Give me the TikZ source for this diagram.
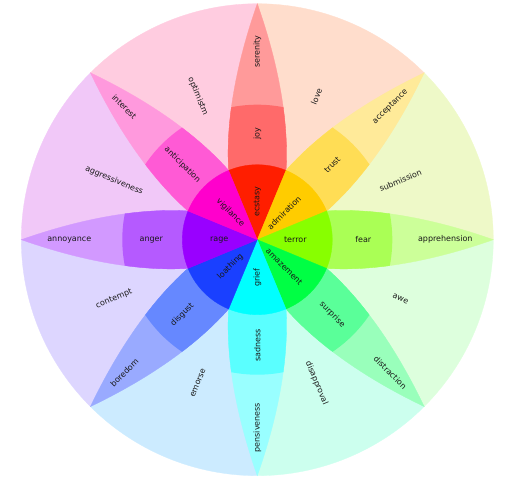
\documentclass[tikz,border=0pt]{standalone}
\usepackage{fontspec}
\setmainfont{DejaVu Sans}

% primary emotions, three levels each
\definecolor{ecstasy}{HTML}{FF1E00}
\definecolor{joy}{HTML}{FF6A6A}
\definecolor{serenity}{HTML}{FF9A9A}
\definecolor{admiration}{HTML}{FFCC00}
\definecolor{trust}{HTML}{FFDD55}
\definecolor{acceptance}{HTML}{FFEA99}
\definecolor{terror}{HTML}{88FF00}
\definecolor{fear}{HTML}{AAFF55}
\definecolor{apprehension}{HTML}{CCFF99}
\definecolor{amazement}{HTML}{00FF44}
\definecolor{surprise}{HTML}{5AFF99}
\definecolor{distraction}{HTML}{99FFBB}
\definecolor{grief}{HTML}{00FFFF}
\definecolor{sadness}{HTML}{5AFFFF}
\definecolor{pensiveness}{HTML}{99FFFF}
\definecolor{loathing}{HTML}{1A40FF}
\definecolor{disgust}{HTML}{6688FF}
\definecolor{boredom}{HTML}{99AAFF}
\definecolor{rage}{HTML}{9900FF}
\definecolor{anger}{HTML}{B55AFF}
\definecolor{annoyance}{HTML}{D299FF}
\definecolor{vigilance}{HTML}{FF00CC}
\definecolor{anticipation}{HTML}{FF5AD5}
\definecolor{interest}{HTML}{FF99DD}
% dyads
\definecolor{love}{HTML}{FFDDCC}
\definecolor{submission}{HTML}{EEF9C8}
\definecolor{awe}{HTML}{DDFFDD}
\definecolor{disapproval}{HTML}{CCFFEE}
\definecolor{remorse}{HTML}{CCEBFF}
\definecolor{contempt}{HTML}{DDD6FF}
\definecolor{aggressiveness}{HTML}{F1C8F8}
\definecolor{optimism}{HTML}{FFCCE0}

\tikzset{
  lbl/.style={font=\fontsize{8}{10}\selectfont, text=black!90, inner sep=0pt},
  seam/.style={draw=#1, fill=#1, line width=0.3pt},
}

% one petal, pointing at angle #1, filled with colour #2
\newcommand{\petal}[2]{%
  \path[seam=#2, rotate=#1] (69.3,-28.7) .. controls (125,-32) and (185,-18) .. (236,0)
    .. controls (185,18) and (125,32) .. (69.3,28.7) -- (0,0) -- cycle;}

\begin{document}
\begin{tikzpicture}[x=1pt, y=1pt]
    \useasboundingbox (-257.3,-246.3) rectangle (255.7,239.7);

    % Dyads: background sectors
    \foreach \a/\c in {45/love, 0/submission, -45/awe, -90/disapproval,
                       -135/remorse, 180/contempt, 135/aggressiveness, 90/optimism}
        \path[seam=\c] (0,0) -- (\a:236) arc (\a:\a+45:236) -- cycle;

    % Petals: outer level, then middle level clipped
    \foreach \a/\o/\m in {90/serenity/joy, 45/acceptance/trust, 0/apprehension/fear,
                          -45/distraction/surprise, -90/pensiveness/sadness,
                          -135/boredom/disgust, 180/annoyance/anger, 135/interest/anticipation}{
        \petal{\a}{\o}
        \begin{scope}
            \clip (0,0) circle (135);
            \petal{\a}{\m}
        \end{scope}
    }

    % Inner disk: intense emotions
    \foreach \a/\c in {90/ecstasy, 45/admiration, 0/terror, -45/amazement,
                       -90/grief, -135/loathing, 180/rage, 135/vigilance}
        \path[seam=\c] (0,0) -- (\a-22.5:75) arc (\a-22.5:\a+22.5:75) -- cycle;

    % Labels along each petal
    \foreach \a/\r/\i/\m/\o in {90/90/ecstasy/joy/serenity, 45/45/admiration/trust/acceptance,
                                0/0/terror/fear/apprehension, -45/-45/amazement/surprise/distraction,
                                -90/90/grief/sadness/pensiveness, -135/45/loathing/disgust/boredom,
                                180/0/rage/anger/annoyance, 135/-45/vigilance/anticipation/interest}{
        \node[lbl, rotate=\r] (\i) at (\a:38) {\i};
        \node[lbl, rotate=\r] (\m) at (\a:106) {\m};
        \node[lbl, rotate=\r] (\o) at (\a:188) {\o};
    }

    % Labels of the dyads
    \foreach \a/\r/\n/\t in {67.5/67.5/love/love, 22.5/22.5/submission/submission,
                             -22.5/-22.5/awe/awe, -67.5/-67.5/disapproval/disapproval,
                             -112.5/67.5/remorse/emorse, 202.5/22.5/contempt/contempt,
                             157.5/-22.5/aggressiveness/aggressiveness, 112.5/-67.5/optimism/optimistm}
        \node[lbl, rotate=\r] (\n) at (\a:155) {\t};
\end{tikzpicture}
\end{document}
